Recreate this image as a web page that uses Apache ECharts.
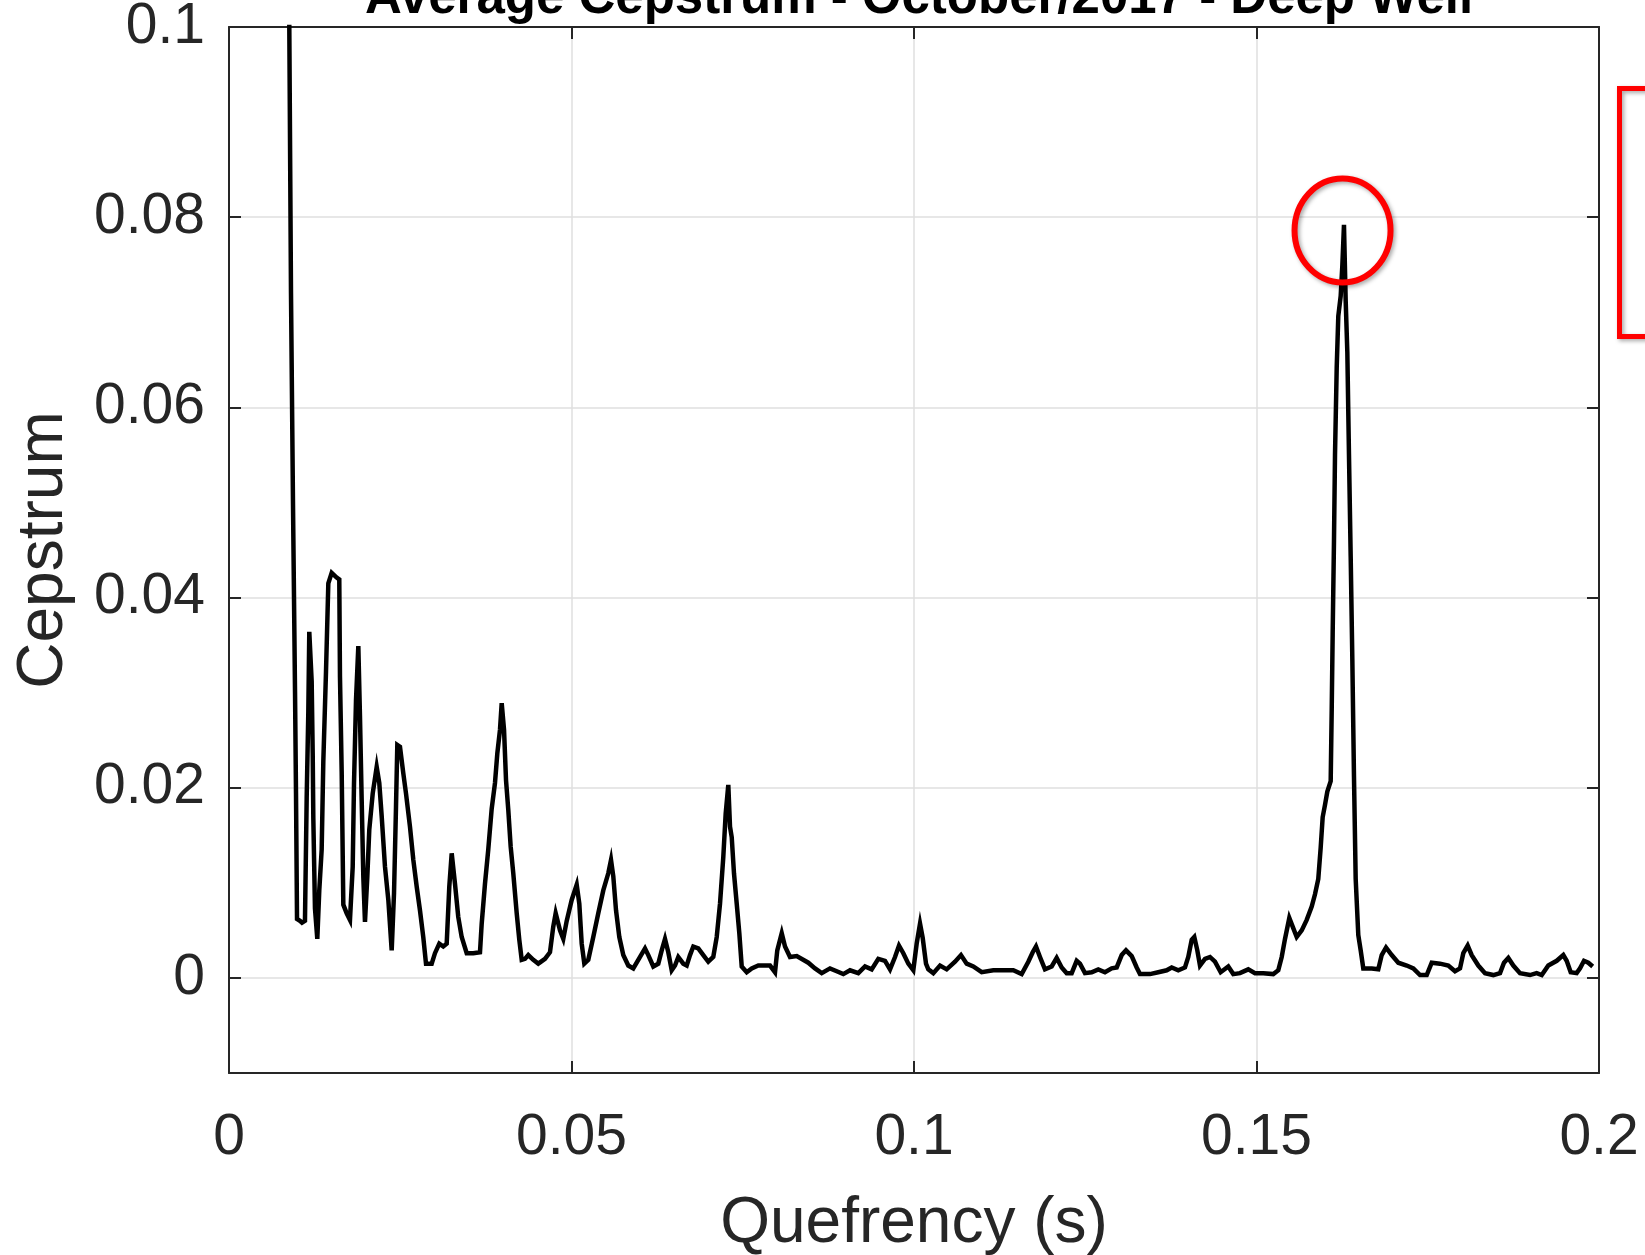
<!DOCTYPE html>
<html>
<head>
<meta charset="utf-8">
<script src="https://cdn.jsdelivr.net/npm/echarts@6/dist/echarts.min.js"></script>
<style>
html,body{margin:0;padding:0;background:#fff;}
#chart{width:1645px;height:1255px;}
</style>
</head>
<body>
<div id="chart"></div>
<script>
// ---- data ----
const quefrency = [
0.00876,0.00905,0.00934,0.00964,0.00978,0.00993,0.01036,0.01066,0.01109,0.01134,
0.01158,0.01172,0.01207,0.01222,0.01231,0.01255,0.01289,0.01318,0.01353,0.01377,
0.01416,0.01450,0.01499,0.01572,0.01610,0.01620,0.01645,0.01669,0.01718,0.01766,
0.01806,0.01825,0.01854,0.01888,0.01912,0.01937,0.01961,0.01985,0.02019,0.02048,
0.02098,0.02156,0.02194,0.02229,0.02277,0.02326,0.02375,0.02409,0.02438,0.02457,
0.02496,0.02545,0.02584,0.02642,0.02691,0.02740,0.02788,0.02836,0.02876,0.02959,
0.03007,0.03070,0.03128,0.03178,0.03216,0.03251,0.03299,0.03347,0.03397,0.03470,
0.03566,0.03664,0.03689,0.03737,0.03785,0.03835,0.03883,0.03917,0.03956,0.03981,
0.04015,0.04044,0.04077,0.04112,0.04150,0.04200,0.04238,0.04273,0.04321,0.04369,
0.04442,0.04515,0.04613,0.04686,0.04734,0.04769,0.04832,0.04880,0.04930,0.05003,
0.05076,0.05114,0.05149,0.05187,0.05245,0.05318,0.05391,0.05464,0.05537,0.05577,
0.05610,0.05650,0.05698,0.05756,0.05829,0.05902,0.05975,0.06073,0.06121,0.06194,
0.06267,0.06317,0.06365,0.06413,0.06463,0.06511,0.06559,0.06632,0.06682,0.06730,
0.06778,0.06851,0.06924,0.06997,0.07070,0.07120,0.07168,0.07216,0.07251,0.07289,
0.07314,0.07339,0.07372,0.07412,0.07450,0.07485,0.07558,0.07631,0.07727,0.07825,
0.07898,0.07971,0.08004,0.08069,0.08117,0.08190,0.08288,0.08457,0.08555,0.08653,
0.08774,0.08872,0.08968,0.09066,0.09187,0.09285,0.09382,0.09479,0.09577,0.09650,
0.09723,0.09781,0.09844,0.09917,0.09990,0.10039,0.10088,0.10127,0.10175,0.10209,
0.10282,0.10380,0.10477,0.10599,0.10686,0.10769,0.10866,0.10988,0.11158,0.11304,
0.11450,0.11572,0.11669,0.11733,0.11781,0.11839,0.11912,0.12010,0.12083,0.12156,
0.12229,0.12302,0.12375,0.12423,0.12496,0.12594,0.12690,0.12788,0.12886,0.12959,
0.13032,0.13095,0.13178,0.13251,0.13299,0.13445,0.13566,0.13689,0.13762,0.13858,
0.13956,0.14004,0.14054,0.14092,0.14136,0.14175,0.14248,0.14321,0.14394,0.14477,
0.14588,0.14661,0.14759,0.14880,0.14978,0.15099,0.15245,0.15318,0.15368,0.15416,
0.15479,0.15528,0.15587,0.15660,0.15733,0.15806,0.15854,0.15902,0.15937,0.15966,
0.16000,0.16034,0.16083,0.16098,0.16112,0.16131,0.16146,0.16171,0.16194,0.16229,
0.16253,0.16277,0.16302,0.16326,0.16350,0.16375,0.16399,0.16423,0.16448,0.16486,
0.16521,0.16559,0.16682,0.16778,0.16828,0.16891,0.16974,0.17070,0.17193,0.17289,
0.17387,0.17485,0.17558,0.17679,0.17800,0.17898,0.17971,0.18019,0.18083,0.18142,
0.18238,0.18336,0.18457,0.18555,0.18613,0.18676,0.18749,0.18847,0.18993,0.19090,
0.19164,0.19260,0.19383,0.19479,0.19528,0.19587,0.19674,0.19723,0.19781,0.19844,
0.19908
];
const cepstrum = [
0.1050,0.0720,0.0500,0.0300,0.0195,0.0062,0.0060,0.0058,0.0060,0.0189,
0.0280,0.0364,0.0312,0.0236,0.0168,0.0073,0.0041,0.0092,0.0135,0.0228,
0.0322,0.0415,0.0426,0.0421,0.0419,0.0317,0.0217,0.0077,0.0068,0.0061,
0.0117,0.0205,0.0292,0.0349,0.0275,0.0187,0.0106,0.0059,0.0106,0.0156,
0.0194,0.0222,0.0205,0.0170,0.0117,0.0082,0.0029,0.0089,0.0180,0.0245,
0.0243,0.0215,0.0194,0.0159,0.0124,0.0096,0.0071,0.0043,0.0015,0.0015,
0.0026,0.0036,0.0033,0.0036,0.0096,0.0131,0.0099,0.0064,0.0043,0.0026,
0.0026,0.0027,0.0057,0.0099,0.0135,0.0178,0.0205,0.0236,0.0261,0.0289,
0.0261,0.0208,0.0177,0.0138,0.0110,0.0068,0.0040,0.0019,0.0020,0.0024,
0.0019,0.0015,0.0020,0.0027,0.0054,0.0068,0.0050,0.0041,0.0060,0.0082,
0.0098,0.0078,0.0036,0.0015,0.0019,0.0043,0.0068,0.0092,0.0110,0.0124,
0.0107,0.0071,0.0043,0.0024,0.0013,0.0010,0.0019,0.0031,0.0024,0.0012,
0.0015,0.0029,0.0041,0.0027,0.0008,0.0013,0.0022,0.0015,0.0013,0.0024,
0.0033,0.0031,0.0024,0.0017,0.0022,0.0043,0.0078,0.0127,0.0173,0.0203,
0.0159,0.0148,0.0110,0.0078,0.0047,0.0012,0.0006,0.0010,0.0013,0.0013,
0.0013,0.0006,0.0029,0.0047,0.0033,0.0022,0.0023,0.0016,0.0010,0.0005,
0.0010,0.0007,0.0004,0.0008,0.0005,0.0012,0.0009,0.0020,0.0018,0.0009,
0.0022,0.0034,0.0026,0.0015,0.0008,0.0036,0.0057,0.0042,0.0015,0.0009,
0.0005,0.0013,0.0009,0.0017,0.0024,0.0015,0.0012,0.0006,0.0008,0.0008,
0.0008,0.0004,0.0017,0.0027,0.0033,0.0022,0.0009,0.0012,0.0021,0.0011,
0.0005,0.0005,0.0018,0.0015,0.0005,0.0006,0.0009,0.0006,0.0010,0.0011,
0.0024,0.0029,0.0023,0.0011,0.0004,0.0004,0.0006,0.0008,0.0011,0.0008,
0.0011,0.0022,0.0040,0.0043,0.0029,0.0013,0.0020,0.0022,0.0017,0.0006,
0.0012,0.0004,0.0005,0.0009,0.0005,0.0005,0.0004,0.0008,0.0022,0.0041,
0.0063,0.0054,0.0043,0.0050,0.0061,0.0075,0.0088,0.0104,0.0137,0.0169,
0.0182,0.0196,0.0207,0.0282,0.0362,0.0459,0.0550,0.0642,0.0696,0.0717,
0.0749,0.0792,0.0712,0.0658,0.0550,0.0443,0.0335,0.0212,0.0104,0.0045,
0.0029,0.0010,0.0010,0.0009,0.0024,0.0032,0.0024,0.0016,0.0013,0.0010,
0.0003,0.0003,0.0016,0.0015,0.0013,0.0007,0.0010,0.0026,0.0034,0.0024,
0.0013,0.0005,0.0003,0.0005,0.0016,0.0021,0.0013,0.0005,0.0003,0.0005,
0.0003,0.0013,0.0018,0.0024,0.0018,0.0006,0.0005,0.0010,0.0018,0.0016,
0.0012
];
const xTicks = [0, 0.05, 0.1, 0.15, 0.2];
const xTickLabels = ['0', '0.05', '0.1', '0.15', '0.2'];
const yTicks = [0, 0.02, 0.04, 0.06, 0.08, 0.1];
const yTickLabels = ['0', '0.02', '0.04', '0.06', '0.08', '0.1'];
const xRange = [0, 0.2];
const yRange = [-0.01, 0.1];
const peakMark = [0.16256, 0.0786];   // centre of the red circle (data coords)
const titleText = 'Average Cepstrum - October/2017 - Deep Well';
const xName = 'Quefrency (s)';
const yName = 'Cepstrum';

// ---- chart ----
const FONT = 'Liberation Sans, Arial, Helvetica, sans-serif';
const AX = '#262626';
const chart = echarts.init(document.getElementById('chart'), null, {renderer: 'canvas'});
const seriesData = quefrency.map((q, i) => [q, cepstrum[i]]);

function fmt(ticks, labels) {
  return v => {
    for (let i = 0; i < ticks.length; i++) if (Math.abs(ticks[i] - v) < 1e-9) return labels[i];
    return '';
  };
}

const tickCommon = {show: true, inside: true, length: 12, lineStyle: {color: AX, width: 2}};
const lineCommon = {show: true, onZero: false, lineStyle: {color: AX, width: 2}};

chart.setOption({
  animation: false,
  backgroundColor: '#fff',
  title: {
    text: titleText,
    left: 914, textAlign: 'center',
    top: -32,
    textStyle: {fontFamily: FONT, fontWeight: 'bold', fontSize: 51, color: '#000'}
  },
  grid: {left: 229, right: 46, top: 27, bottom: 182, containLabel: false, outerBoundsMode: 'none'},
  xAxis: [{
    type: 'value', min: xRange[0], max: xRange[1], position: 'bottom',
    axisLine: lineCommon,
    axisTick: Object.assign({customValues: xTicks}, tickCommon),
    axisLabel: {customValues: xTicks, formatter: fmt(xTicks, xTickLabels), margin: 37,
      fontFamily: FONT, fontSize: 57, color: AX},
    splitLine: {show: true, lineStyle: {color: '#dfdfdf', width: 1.5}},
    name: xName, nameLocation: 'middle', nameGap: 119,
    nameTextStyle: {fontFamily: FONT, fontSize: 64, color: AX}
  }, {
    type: 'value', min: xRange[0], max: xRange[1], position: 'top',
    axisLine: lineCommon,
    axisTick: Object.assign({customValues: xTicks}, tickCommon),
    axisLabel: {show: false},
    splitLine: {show: false}
  }],
  yAxis: [{
    type: 'value', min: yRange[0], max: yRange[1], position: 'left',
    axisLine: lineCommon,
    axisTick: Object.assign({customValues: yTicks}, tickCommon),
    axisLabel: {customValues: yTicks, formatter: fmt(yTicks, yTickLabels), margin: 24,
      fontFamily: FONT, fontSize: 57, color: AX},
    splitLine: {show: true, lineStyle: {color: '#dfdfdf', width: 1.5}},
    name: yName, nameLocation: 'middle', nameGap: 153,
    nameTextStyle: {fontFamily: FONT, fontSize: 64, color: AX}
  }, {
    type: 'value', min: yRange[0], max: yRange[1], position: 'right',
    axisLine: lineCommon,
    axisTick: Object.assign({customValues: yTicks}, tickCommon),
    axisLabel: {show: false},
    splitLine: {show: false}
  }],
  series: [{
    type: 'line',
    xAxisIndex: 0, yAxisIndex: 0,
    data: seriesData,
    showSymbol: false,
    symbol: 'none',
    clip: true,
    lineStyle: {color: '#000', width: 4.5, join: 'miter'},
    z: 3
  }]
});

const c = chart.convertToPixel({xAxisIndex: 0, yAxisIndex: 0}, peakMark);
chart.setOption({
  graphic: [{
    type: 'ellipse',
    shape: {cx: c[0], cy: c[1], rx: 48, ry: 52},
    style: {fill: 'none', stroke: '#ff0000', lineWidth: 6,
      shadowBlur: 4, shadowColor: 'rgba(0,0,0,0.35)', shadowOffsetX: 2, shadowOffsetY: 2},
    z: 100
  }, {
    type: 'rect',
    shape: {x: 1619.5, y: 88.5, width: 120, height: 248},
    style: {fill: 'none', stroke: '#ff0000', lineWidth: 5,
      shadowBlur: 4, shadowColor: 'rgba(0,0,0,0.35)', shadowOffsetX: 2, shadowOffsetY: 2},
    z: 100
  }]
});
</script>
</body>
</html>
